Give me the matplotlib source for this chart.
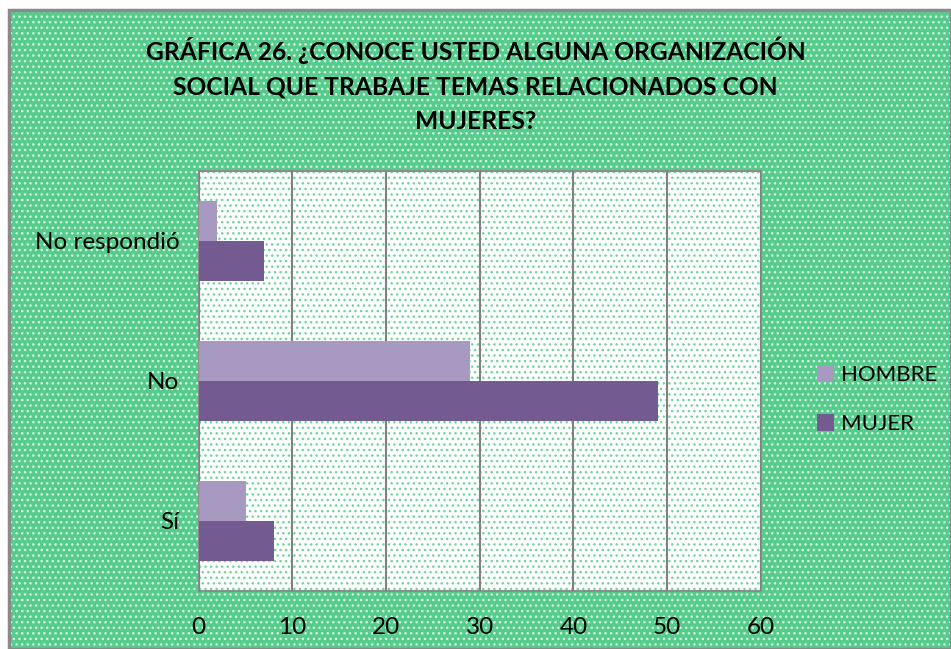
import matplotlib.pyplot as plt
from matplotlib.patches import Rectangle
import numpy as np

plt.rcParams['font.family'] = ['Lato', 'DejaVu Sans']
plt.rcParams['hatch.linewidth'] = 1.0

categorias = ['Sí', 'No', 'No respondió']
hombre = [5, 29, 2]
mujer = [8, 49, 7]

fig = plt.figure(figsize=(9.51, 6.49), dpi=100)
fig.patch.set_facecolor('white')

# fondo verde con puntos
fondo = Rectangle((0.009, 0.0), 0.991, 0.985, transform=fig.transFigure,
                  facecolor='#55cc8b', edgecolor='#d8f5e4', hatch='...',
                  linewidth=0, zorder=-2)
fig.patches.append(fondo)
borde = Rectangle((0.009, 0.0), 0.991, 0.985, transform=fig.transFigure,
                  facecolor='none', edgecolor='#8a8a8a', linewidth=2.5, zorder=-1)
fig.patches.append(borde)

ax = fig.add_axes([0.209, 0.0894, 0.591, 0.6476])
ax.set_facecolor('white')
ax.add_patch(Rectangle((0, 0), 1, 1, transform=ax.transAxes, facecolor='white',
                       edgecolor='#6ed69c', hatch='...', linewidth=0, zorder=0))

y = np.arange(len(categorias))
h = 0.286
ax.barh(y + h / 2, hombre, height=h, color='#a899c1', label='HOMBRE', zorder=3)
ax.barh(y - h / 2, mujer, height=h, color='#735a91', label='MUJER', zorder=3)

ax.set_xlim(0, 60)
ax.set_ylim(-0.5, 2.5)
ax.set_xticks(range(0, 61, 10))
ax.set_yticks(y)
ax.set_yticklabels(categorias)
ax.tick_params(axis='both', length=0, labelsize=17.5)
ax.tick_params(axis='x', pad=19)
ax.tick_params(axis='y', pad=14)
ax.xaxis.grid(True, color='#808080', linewidth=1.5, zorder=1)
ax.set_axisbelow(False)
for s in ax.spines.values():
    s.set_color('#8c8c8c')
    s.set_linewidth(1.5)

fig.text(0.5, 0.869, 'GRÁFICA 26. ¿CONOCE USTED ALGUNA ORGANIZACIÓN\n'
         'SOCIAL QUE TRABAJE TEMAS RELACIONADOS CON\nMUJERES?',
         ha='center', va='center', fontsize=17.7, fontweight='bold',
         linespacing=1.6)

leg = fig.legend(loc='center left', bbox_to_anchor=(0.838, 0.384), frameon=False,
                 fontsize=16, handlelength=0.75, handleheight=0.75,
                 handletextpad=0.35, labelspacing=1.3)

fig.savefig('out.png', dpi=100)
